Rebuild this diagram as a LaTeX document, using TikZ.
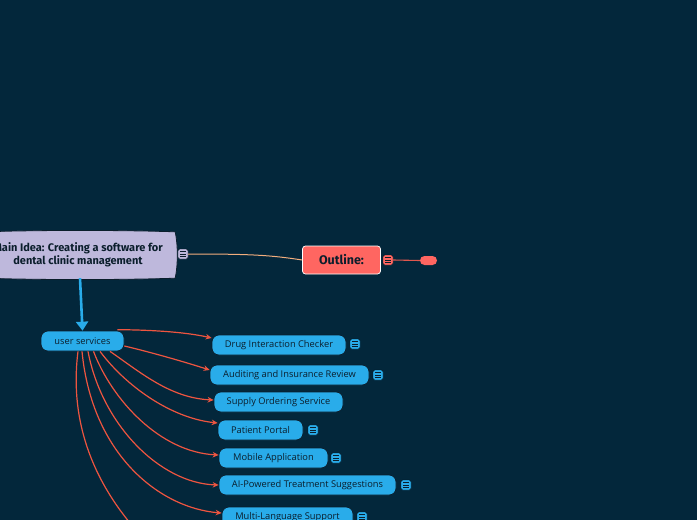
\documentclass[tikz,border=0pt]{standalone}
\usepackage{fontspec}
\setmainfont{Open Sans}
\newfontfamily\boldf{Fira Sans}
\usetikzlibrary{arrows.meta}
\definecolor{bg}{HTML}{03273B}
\definecolor{lav}{HTML}{BEB8DC}
\definecolor{coral}{HTML}{FF6661}
\definecolor{coralline}{HTML}{E0574E}
\definecolor{sky}{HTML}{29ACEA}
\definecolor{arr}{HTML}{EE5540}
\definecolor{tanline}{HTML}{F2AE7E}
\definecolor{ink}{HTML}{0B1E2C}
\tikzset{
  noteicon/.style={rectangle, fill=#1, draw=bg!60!black, line width=0.4pt, rounded corners=1.5pt,
    minimum size=10pt, inner sep=0pt,
    path picture={\foreach \d in {-2.4,0,2.4}
      \draw[line width=0.7pt, ink] ([shift={(-2.6pt,\d pt)}]path picture bounding box.center) -- ++(5.2pt,0);}},
  child/.style={rectangle, fill=sky, draw=ink, line width=0.7pt, rounded corners=7pt,
    minimum height=20pt, inner sep=0pt, text=ink, font=\fontsize{9.3}{11}\selectfont},
  redarrow/.style={arr, line width=1.2pt, -{Stealth[length=6pt,width=5.5pt]}}
}
\begin{document}
\begin{tikzpicture}[x=1pt,y=-1pt]
\fill[bg] (0,0) rectangle (697,520);
\useasboundingbox (0,0) rectangle (697,520);

% main idea
\node[minimum width=190pt, minimum height=46pt, inner sep=0pt] (main) at (80,255) {};
\filldraw[fill=lav, draw=ink, line width=0.8pt]
  (main.north west) .. controls (40,230) and (120,230) .. (main.north east)
  .. controls (178,245) and (178,265) .. (main.south east)
  .. controls (120,280) and (40,280) .. (main.south west) -- cycle;
\node[align=center, text=ink, font=\boldf\bfseries\fontsize{11}{12.5}\selectfont] (maintext) at (78,255)
  {Main Idea: Creating a software for\\dental clinic management};
\node[noteicon=lav] (n0) at (183,254) {};

% outline
\node[fill=coral, draw=white, line width=0.7pt, rounded corners=3pt, minimum width=78pt, minimum height=28pt,
  inner sep=0pt, text=ink, font=\boldf\bfseries\fontsize{12.5}{14}\selectfont] (outline) at (341.5,260) {Outline:};
\draw[tanline, line width=1pt] (n0.east) .. controls (250,254) and (270,255) .. (outline.west);
\node[noteicon=coral] (n1) at (388,260) {};
\node[fill=coral, rounded corners=4.5pt, minimum width=17pt, minimum height=9pt, inner sep=0pt] (pill) at (428.5,260.5) {};
\draw[coralline, line width=1.1pt] (n1.east) -- (pill.west);

% user services
\node[child, minimum width=83pt] (us) at (82.5,341) {user services};
\draw[sky, line width=2.6pt, -{Triangle[length=9pt,width=12pt]}] (main.south) -- (us.north);

% children
\node[child, minimum width=134pt] (drug) at (279,345) {Drug Interaction Checker};
\node[child, minimum width=159pt] (audit) at (289.5,375) {Auditing and Insurance Review};
\node[child, minimum width=129pt] (supply) at (278.5,402) {Supply Ordering Service};
\node[child, minimum width=85pt] (patient) at (260.5,430) {Patient Portal};
\node[child, minimum width=109pt] (mobile) at (273.5,458) {Mobile Application};
\node[child, minimum width=177pt] (ai) at (307.5,485) {AI-Powered Treatment Suggestions};
\node[child, minimum width=131pt] (multi) at (287.5,517) {Multi-Language Support};

\node[noteicon=sky] (i1) at (355,344) {};
\node[noteicon=sky] (i2) at (378,375) {};
\node[noteicon=sky] (i4) at (313,430) {};
\node[noteicon=sky] (i5) at (336,458) {};
\node[noteicon=sky] (i6) at (406,485) {};
\node[noteicon=sky] (i7) at (362,517) {};

\coordinate (off) at (150,545);

\draw[redarrow] ([xshift=-7pt,yshift=1pt]us.north east) .. controls (160,330) and (190,333) .. ([yshift=7pt]drug.west);
\draw[redarrow] ([yshift=-5pt]us.east) .. controls (150,352) and (185,362) .. ([yshift=5pt]audit.west);
\draw[redarrow] ([xshift=27.5pt]us.south) .. controls (140,372) and (170,398) .. ([yshift=2pt]supply.west);
\draw[redarrow] ([xshift=17.5pt]us.south) .. controls (125,385) and (170,418) .. ([yshift=7pt]patient.west);
\draw[redarrow] ([xshift=11pt]us.south) .. controls (112,400) and (160,452) .. ([yshift=3pt]mobile.west);
\draw[redarrow] ([xshift=5.5pt]us.south) .. controls (102,425) and (160,483) .. (ai.west);
\draw[redarrow] ([xshift=-0.5pt]us.south) .. controls (92,455) and (160,508) .. ([yshift=4pt]multi.west);
\draw[arr, line width=1.2pt] ([xshift=-4.5pt]us.south) .. controls (68,430) and (100,495) .. (off);
\end{tikzpicture}
\end{document}
